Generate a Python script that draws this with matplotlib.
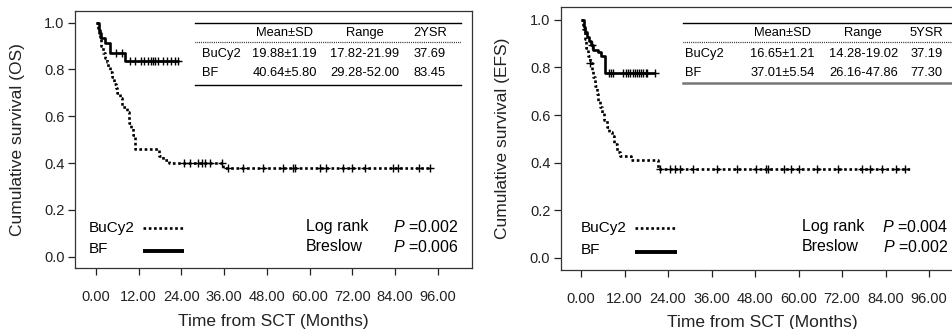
import numpy as np
import matplotlib
matplotlib.use("Agg")
from matplotlib import pyplot as plt

plt.rcParams['font.family'] = ['Liberation Sans', 'DejaVu Sans']
plt.rcParams['mathtext.fontset'] = 'custom'
plt.rcParams['mathtext.it'] = 'Liberation Sans:italic'
plt.rcParams['mathtext.rm'] = 'Liberation Sans'

# ---- OS panel data ----
os_bucy_t = [0, 0.6, 1.0, 1.5, 2.0, 2.6, 3.0, 3.5, 4.0, 4.6, 5.0, 5.6, 6.0, 6.6,
             7.2, 8.6, 9.4, 9.9, 10.5, 11.0, 17.8, 18.8, 20.6, 35.8]
os_bucy_s = [1.0, 0.97, 0.94, 0.90, 0.87, 0.85, 0.83, 0.81, 0.79, 0.77, 0.74, 0.72,
             0.70, 0.68, 0.64, 0.62, 0.57, 0.55, 0.52, 0.46, 0.43, 0.415, 0.40, 0.38]
os_bucy_end = 94.0
os_bucy_cens = [24.6, 26.3, 28.7, 29.7, 30.6, 32.0, 35.3, 37.0, 41.4, 47.0, 52.5,
                55.4, 56.0, 63.0, 64.5, 69.5, 72.0, 75.5, 83.3, 84.8, 90.8, 93.8]

os_bf_t = [0, 0.8, 1.5, 2.5, 3.8, 8.2]
os_bf_s = [1.0, 0.957, 0.935, 0.913, 0.87, 0.835]
os_bf_end = 23.2
os_bf_cens = [5.5, 7.2, 9.6, 11.0, 12.5, 13.6, 14.6, 15.4, 16.0, 16.6, 17.4,
              18.8, 20.0, 21.2, 22.2, 23.0]

# ---- EFS panel data ----
efs_bucy_t = [0, 0.6, 1.0, 1.5, 2.0, 2.5, 3.0, 3.4, 3.9, 4.3, 4.8, 5.2, 5.7, 6.2,
              7.1, 7.7, 8.5, 9.2, 9.8, 10.8, 13.9, 21.3]
efs_bucy_s = [1.0, 0.96, 0.92, 0.88, 0.85, 0.82, 0.79, 0.76, 0.72, 0.69, 0.66, 0.635,
              0.607, 0.58, 0.55, 0.53, 0.51, 0.48, 0.446, 0.428, 0.411, 0.372]
efs_bucy_end = 90.8
efs_bucy_cens = [2.5, 21.8, 24.6, 25.9, 27.3, 31.0, 37.4, 43.0, 48.2, 50.9, 51.7,
                 56.0, 58.0, 60.0, 65.0, 71.0, 77.5, 79.8, 83.0, 87.0, 89.3]

efs_bf_t = [0, 0.8, 1.2, 1.7, 2.2, 2.7, 3.4, 4.8, 5.6, 6.6]
efs_bf_s = [1.0, 0.97, 0.95, 0.93, 0.91, 0.895, 0.875, 0.865, 0.85, 0.776]
efs_bf_end = 20.4
efs_bf_cens = [3.0, 7.6, 8.2, 8.8, 11.6, 12.3, 12.9, 13.6, 14.2, 14.8, 15.5, 16.1,
               16.6, 17.2, 17.8, 18.3, 20.3]

xticks = [0, 12, 24, 36, 48, 60, 72, 84, 96]
yticks = [0.0, 0.2, 0.4, 0.6, 0.8, 1.0]

os_table = [["BuCy2", "19.88\u00b11.19", "17.82-21.99", "37.69"],
            ["BF", "40.64\u00b15.80", "29.28-52.00", "83.45"]]
efs_table = [["BuCy2", "16.65\u00b11.21", "14.28-19.02", "37.19"],
             ["BF", "37.01\u00b15.54", "26.16-47.86", "77.30"]]
os_p = ["0.002", "0.006"]
efs_p = ["0.004", "0.002"]

DOT = (0, (1.0, 1.0))


def km(ax, t, s, end, cens, ls):
    t = np.append(t, end)
    s = np.append(s, s[-1])
    ax.step(t, s, where='post', color='black', lw=1.9, ls=ls,
            dash_capstyle='butt', solid_capstyle='butt')
    idx = np.searchsorted(t, cens, side='right') - 1
    ax.plot(cens, s[idx], ls='none', marker='+', ms=5.5, mew=1.0, color='black')


def panel(ax, curves, ylabel, table, head3, pvals, geo):
    for c in curves:
        km(ax, *c)
    ax.set_xticks(xticks)
    ax.set_xticklabels(["%.2f" % v for v in xticks])
    ax.set_yticks(yticks)
    ax.set_yticklabels(["%.1f" % v for v in yticks])
    ax.tick_params(direction='out', length=5, width=0.9, labelsize=10.5, colors='#222222')
    ax.tick_params(axis='x', pad=11)
    ax.tick_params(axis='y', pad=2.5)
    for sp in ax.spines.values():
        sp.set_linewidth(0.9)
        sp.set_color('#333333')
    ax.set_xlabel("Time from SCT (Months)", fontsize=12.5, color='#222222')
    ax.set_ylabel(ylabel, fontsize=12.5, color='#222222')
    ax.xaxis.set_label_coords(0.5, geo['xl'])
    ax.yaxis.set_label_coords(geo['yl'], 0.5)

    tr = ax.transAxes
    x0, x1 = geo['tx']
    ax.plot([x0, x1], [geo['top'], geo['top']], color='black', lw=1.0, transform=tr, clip_on=False)
    ax.plot([x0, x1], [geo['dot'], geo['dot']], color='black', lw=0.9, ls=(0, (0.6, 0.9)),
            transform=tr, clip_on=False)
    ax.plot([x0, x1], [geo['bot'], geo['bot']], color=geo['botc'], lw=geo['botw'],
            transform=tr, clip_on=False)
    cols = geo['cols']
    for h, cx in zip(["Mean\u00b1SD", "Range", head3], cols):
        ax.text(cx, geo['head'], h, transform=tr, ha='center', va='center', fontsize=9.3)
    for row, ry in zip(table, geo['rows']):
        ax.text(geo['lab'], ry, row[0], transform=tr, ha='left', va='center', fontsize=9.3)
        for v, cx in zip(row[1:], cols):
            ax.text(cx, ry, v, transform=tr, ha='center', va='center', fontsize=9.3)

    # legend
    lx0, lx1 = geo['legx']
    ax.text(geo['legt'], geo['leg1'], "BuCy2", transform=tr, ha='left', va='center', fontsize=11)
    ax.text(geo['legt'], geo['leg2'], "BF", transform=tr, ha='left', va='center', fontsize=11)
    ax.plot([lx0, lx1], [geo['leg1'], geo['leg1']], color='black', lw=1.9, ls=DOT,
            dash_capstyle='butt', transform=tr)
    ax.plot([lx0, lx1], [geo['leg2'] - 0.007, geo['leg2'] - 0.007], color='black', lw=2.8,
            solid_capstyle='butt', transform=tr)
    # statistics
    ax.text(geo['st'], geo['s1'], "Log rank", transform=tr, ha='left', va='center', fontsize=11.5)
    ax.text(geo['st'], geo['s2'], "Breslow", transform=tr, ha='left', va='center', fontsize=11.5)
    ax.text(geo['pr'], geo['s1'], "$P$ =" + pvals[0], transform=tr, ha='right', va='center', fontsize=11.5)
    ax.text(geo['pr'], geo['s2'], "$P$ =" + pvals[1], transform=tr, ha='right', va='center', fontsize=11.5)


fig = plt.figure(figsize=(9.53, 3.29), dpi=100)
ax1 = fig.add_axes([0.0787, 0.1854, 0.4166, 0.782])
ax2 = fig.add_axes([0.5884, 0.1793, 0.4226, 0.7985])

ax1.set_xlim(-5.9, 105.6)
ax1.set_ylim(-0.048, 1.051)
ax2.set_xlim(-5.6, 105.5)
ax2.set_ylim(-0.052, 1.053)

panel(ax1,
      [(os_bucy_t, os_bucy_s, os_bucy_end, os_bucy_cens, DOT),
       (os_bf_t, os_bf_s, os_bf_end, os_bf_cens, '-')],
      "Cumulative survival (OS)", os_table, "2YSR", os_p,
      dict(xl=-0.18, yl=-0.125, tx=(0.302, 0.972), top=0.953, dot=0.878, bot=0.711,
           botc='black', botw=1.0, cols=(0.528, 0.730, 0.894), head=0.912,
           rows=(0.831, 0.757), lab=0.321, legx=(0.172, 0.275), legt=0.035,
           leg1=0.157, leg2=0.072, st=0.582, s1=0.160, s2=0.083, pr=0.966))
panel(ax2,
      [(efs_bucy_t, efs_bucy_s, efs_bucy_end, efs_bucy_cens, DOT),
       (efs_bf_t, efs_bf_s, efs_bf_end, efs_bf_cens, '-')],
      "Cumulative survival (EFS)", efs_table, "5YSR", efs_p,
      dict(xl=-0.17, yl=-0.125, tx=(0.304, 0.99), top=0.941, dot=0.867, bot=0.711,
           botc='#777777', botw=1.8, cols=(0.551, 0.751, 0.909), head=0.901,
           rows=(0.821, 0.749), lab=0.309, legx=(0.185, 0.288), legt=0.050,
           leg1=0.161, leg2=0.076, st=0.598, s1=0.165, s2=0.089, pr=0.9625))

fig.savefig("out.png", dpi=100)
